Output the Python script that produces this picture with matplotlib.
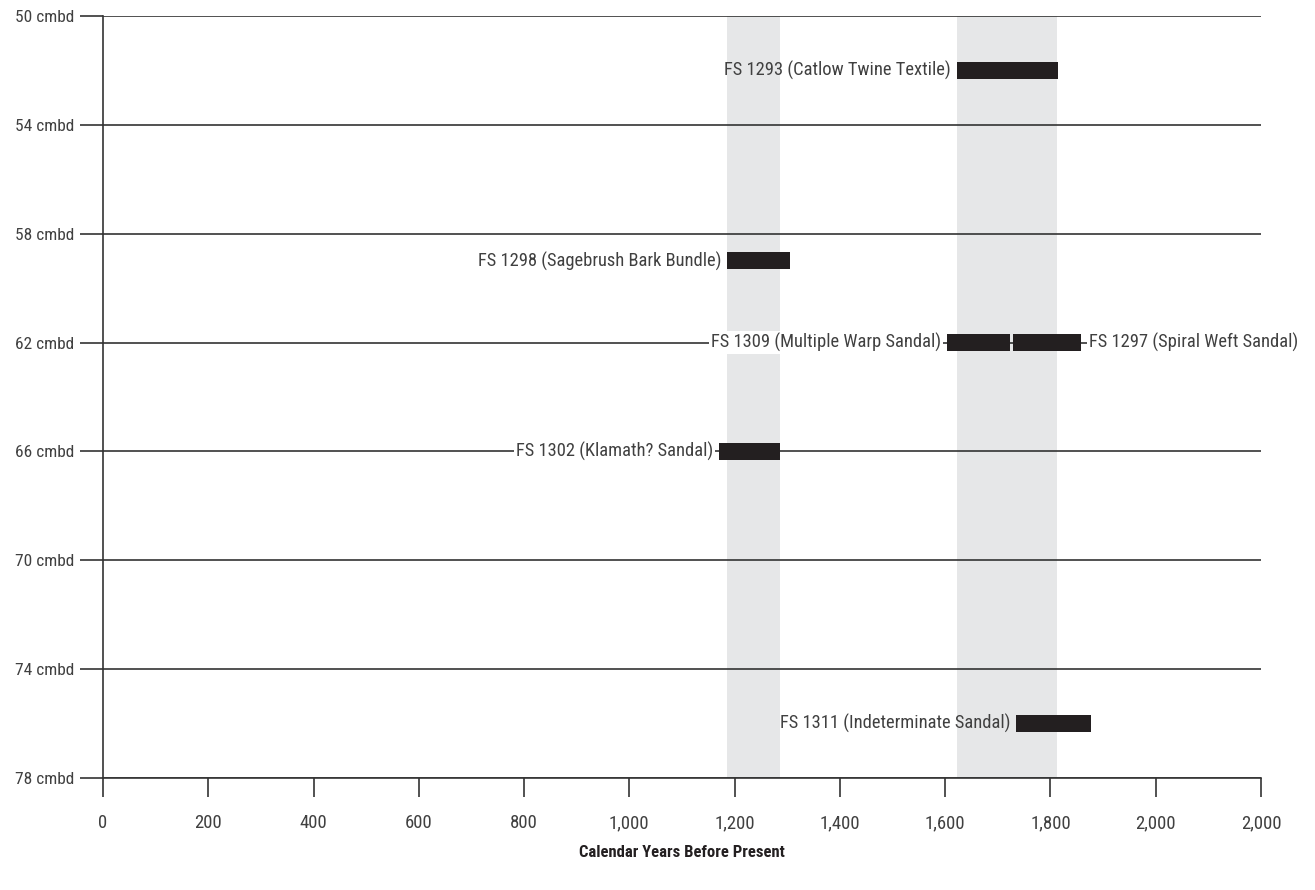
import matplotlib.pyplot as plt
from matplotlib import font_manager

# ── Data ──────────────────────────────────────────────────────────────────────
LABELS = ["FS 1293 (Catlow Twine Textile)", "FS 1298 (Sagebrush Bark Bundle)",
          "FS 1309 (Multiple Warp Sandal)", "FS 1297 (Spiral Weft Sandal)",
          "FS 1302 (Klamath? Sandal)", "FS 1311 (Indeterminate Sandal)"]
DEPTHS = [52, 59, 62, 62, 66, 76]
START  = [1622, 1185, 1603, 1728, 1170, 1734]
END    = [1814, 1305, 1723, 1858, 1286, 1877]
SIDE   = ["left", "left", "left", "right", "left", "left"]

BANDS = [(1185, 1286), (1622, 1812)]

Y_TICKS  = [50, 54, 58, 62, 66, 70, 74, 78]
X_TICKS  = [0, 200, 400, 600, 800, 1000, 1200, 1400, 1600, 1800, 2000, 2200]
X_LABELS = ["0", "200", "400", "600", "800", "1,000", "1,200", "1,400",
            "1,600", "1,800", "2,000", "2,000"]

# ── Font: look for a condensed face ───────────────────────────────────────────
fonts = font_manager.fontManager.ttflist
names = {f.name for f in fonts}
FONT, STRETCH = "DejaVu Sans", "normal"
for cand in ["Roboto Condensed", "Liberation Sans Narrow", "Open Sans Condensed",
             "DejaVu Sans Condensed", "Noto Sans Condensed"]:
    if cand in names:
        FONT = cand
        break
else:
    cond = [f for f in fonts if "ondensed" in f.fname or "Narrow" in f.fname]
    if cond:
        FONT, STRETCH = cond[0].name, "condensed"
plt.rcParams["font.family"] = FONT
plt.rcParams["font.stretch"] = STRETCH

LINE = "#333333"
BAR  = "#231f20"
BAND = "#e6e7e8"
TXT  = "#404040"

fig = plt.figure(figsize=(13.15, 8.9), dpi=100)
ax = fig.add_axes([103 / 1315, 1 - 778 / 890, (1261 - 103) / 1315, (778 - 16) / 890])

ax.set_xlim(0, 2200)
ax.set_ylim(78, 50)

for lo, hi in BANDS:
    ax.axvspan(lo, hi, color=BAND, zorder=0, lw=0)

for y in Y_TICKS:
    ax.axhline(y, color=LINE, lw=1.2, zorder=1)

for name, d, s, e, side in zip(LABELS, DEPTHS, START, END, SIDE):
    ax.barh(d, e - s, left=s, height=0.62, color=BAR, zorder=3)
    on_grid = d in Y_TICKS
    box = dict(facecolor="white", edgecolor="none", pad=1.5) if on_grid else None
    if side == "left":
        ax.annotate(name, (s, d), xytext=(-4, 0), textcoords="offset points",
                    ha="right", va="center", fontsize=13.3, color=TXT,
                    bbox=box, zorder=2)
    else:
        ax.annotate(name, (e, d), xytext=(6, 0), textcoords="offset points",
                    ha="left", va="center", fontsize=13.3, color=TXT,
                    bbox=box, zorder=2)

ax.set_yticks(Y_TICKS)
ax.set_yticklabels([f"{y} cmbd" for y in Y_TICKS])
ax.set_xticks(X_TICKS)
ax.set_xticklabels(X_LABELS)
ax.tick_params(axis="y", length=16.5, width=1.2, color=LINE, pad=4,
               labelsize=12.5, labelcolor=TXT)
ax.tick_params(axis="x", length=14, width=1.2, color=LINE, pad=12,
               labelsize=13.5, labelcolor=TXT)

for side in ["top", "right"]:
    ax.spines[side].set_visible(False)
for side in ["left", "bottom"]:
    ax.spines[side].set_color(LINE)
    ax.spines[side].set_linewidth(1.2)

ax.set_xlabel("Calendar Years Before Present", fontsize=12, fontweight="bold",
              color=BAR, labelpad=9)

fig.savefig("out.png", dpi=100)
